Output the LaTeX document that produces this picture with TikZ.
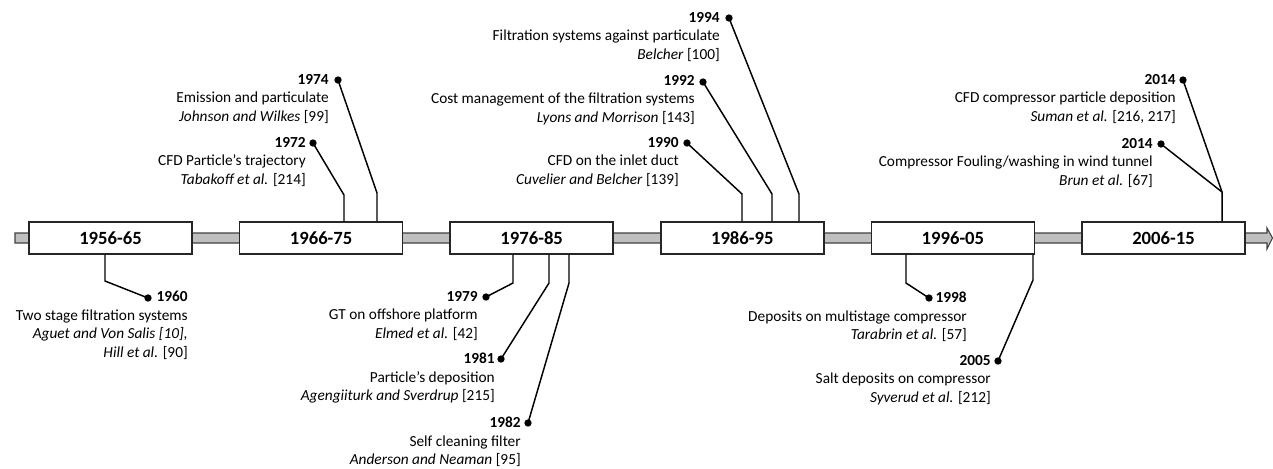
\documentclass[tikz,border=0pt]{standalone}
\usepackage{fontspec}
\setmainfont{Carlito}
\begin{document}
\begin{tikzpicture}[x=0.75pt,y=-0.75pt,
  period/.style={draw=black!85,line width=1.1pt,fill=white,minimum width=122.25pt,minimum height=24pt,inner sep=0,font=\fontsize{14}{16}\selectfont\bfseries},
  dot/.style={circle,fill=black,inner sep=0,minimum size=5.5pt},
  lbl/.style={align=right,inner sep=0,anchor=north east,font=\fontsize{11.5}{13.9}\selectfont},
  conn/.style={line width=1.1pt,black}]
\useasboundingbox (0,0) rectangle (1273,468);
% timeline bar
\path[fill=black!25,draw=black!75,line width=0.8pt] (15,233) -- (1267,233) -- (1267,228) -- (1272.5,238) -- (1267,249) -- (1267,243) -- (15,243) -- cycle;
% period boxes
\node[period] (p1) at (110.5,238) {1956-65};
\node[period] (p2) at (321.1,238) {1966-75};
\node[period] (p3) at (531.7,238) {1976-85};
\node[period] (p4) at (742.3,238) {1986-95};
\node[period] (p5) at (952.9,238) {1996-05};
\node[period] (p6) at (1163.5,238) {2006-15};
% bend coordinates
\coordinate (k1960) at (105,281);
\coordinate (k1972) at (344,195);
\coordinate (k1974) at (377,193);
\coordinate (k1979) at (513,283);
\coordinate (k1981) at (549,283);
\coordinate (k1982) at (569,283);
\coordinate (k1990) at (742,194);
\coordinate (k1992) at (772,194);
\coordinate (k1994) at (799,194);
\coordinate (k1998) at (906,283);
\coordinate (k2005) at (1033,280);
\coordinate (k2014) at (1222,192);
% dots
\node[dot] (d1960) at (148,298) {};
\node[dot] (d1972) at (313,143) {};
\node[dot] (d1974) at (338,80) {};
\node[dot] (d1979) at (486,297) {};
\node[dot] (d1981) at (501,359) {};
\node[dot] (d1982) at (528,423) {};
\node[dot] (d1990) at (687,143) {};
\node[dot] (d1992) at (703,82) {};
\node[dot] (d1994) at (729,18) {};
\node[dot] (d1998) at (929,298) {};
\node[dot] (d2005) at (998,361) {};
\node[dot] (d2014a) at (1183,80) {};
\node[dot] (d2014b) at (1161,144) {};
% connectors
\draw[conn] (p1.south -| k1960) -- (k1960) -- (d1960.center);
\draw[conn] (p2.north -| k1972) -- (k1972) -- (d1972.center);
\draw[conn] (p2.north -| k1974) -- (k1974) -- (d1974.center);
\draw[conn] (p3.south -| k1979) -- (k1979) -- (d1979.center);
\draw[conn] (p3.south -| k1981) -- (k1981) -- (d1981.center);
\draw[conn] (p3.south -| k1982) -- (k1982) -- (d1982.center);
\draw[conn] (p4.north -| k1990) -- (k1990) -- (d1990.center);
\draw[conn] (p4.north -| k1992) -- (k1992) -- (d1992.center);
\draw[conn] (p4.north -| k1994) -- (k1994) -- (d1994.center);
\draw[conn] (p5.south -| k1998) -- (k1998) -- (d1998.center);
\draw[conn] (p5.south -| k2005) -- (k2005) -- (d2005.center);
\draw[conn] (p6.north -| k2014) -- (k2014) -- (d2014a.center);
\draw[conn] (k2014) -- (d2014b.center);
% labels
\node[lbl] (t1960) at (188,291) {\textbf{1960}\\Two stage filtration systems\\\textit{Aguet and Von Salis [10],}\\\textit{Hill et al.} [90]};
\node[lbl] (t1972) at (306,137) {\textbf{1972}\\CFD Particle's trajectory\\\textit{Tabakoff et al.} [214]};
\node[lbl] (t1974) at (329,74) {\textbf{1974}\\Emission and particulate\\\textit{Johnson and Wilkes} [99]};
\node[lbl] (t1979) at (478,291) {\textbf{1979}\\GT on offshore platform\\\textit{Elmed et al.} [42]};
\node[lbl] (t1981) at (495,353) {\textbf{1981}\\Particle's deposition\\\textit{Agengiiturk and Sverdrup} [215]};
\node[lbl] (t1982) at (521,417) {\textbf{1982}\\Self cleaning filter\\\textit{Anderson and Neaman} [95]};
\node[lbl] (t1990) at (679,137) {\textbf{1990}\\CFD on the inlet duct\\\textit{Cuvelier and Belcher} [139]};
\node[lbl] (t1992) at (695,75) {\textbf{1992}\\Cost management of the filtration systems\\\textit{Lyons and Morrison} [143]};
\node[lbl] (t1994) at (720,12) {\textbf{1994}\\Filtration systems against particulate\\\textit{Belcher} [100]};
\node[lbl] (t1998) at (967,292) {\textbf{1998}\\Deposits on multistage compressor\\\textit{Tarabrin et al.} [57]};
\node[lbl] (t2005) at (991,355) {\textbf{2005}\\Salt deposits on compressor\\\textit{Syverud et al.} [212]};
\node[lbl] (t2014a) at (1176,74) {\textbf{2014}\\CFD compressor particle deposition\\\textit{Suman et al.} [216, 217]};
\node[lbl] (t2014b) at (1153,138) {\textbf{2014}\\Compressor Fouling/washing in wind tunnel\\\textit{Brun et al.} [67]};
\end{tikzpicture}
\end{document}
